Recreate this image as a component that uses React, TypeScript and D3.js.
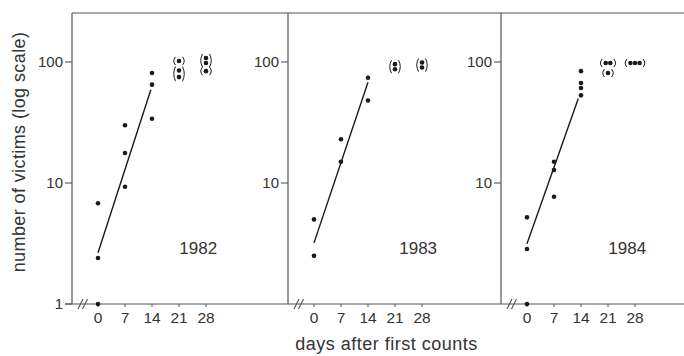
import * as d3 from 'd3';

// victims per count
const yearLabels = ['1982', '1983', '1984'];
const dayTicks = [0, 7, 14, 21, 28];
const yTicks = [1, 10, 100];

const days1982 = [0, 0, 0, 7, 7, 7, 14, 14, 14, 21, 21, 21, 28, 28, 28];
const victims1982 = [1, 2.4, 6.8, 9.3, 17.7, 30, 34, 65, 81, 75, 85, 102, 84, 98, 108];
const days1983 = [0, 0, 7, 7, 14, 14, 21, 21, 28, 28];
const victims1983 = [2.5, 5.0, 15, 23, 48, 74, 87, 96, 90, 99];
const days1984 = [0, 0, 0, 7, 7, 7, 14, 14, 14, 14, 21, 21, 21, 28, 28, 28];
const victims1984 = [1, 2.85, 5.2, 7.7, 12.8, 15, 53, 61, 67, 84, 81, 98, 98, 98, 98, 98];

// fitted exponential lines (value at day 0, value at end day)
const fitStart = [2.65, 3.2, 3.15];
const fitEnd = [59, 68, 50];
const fitEndDay = [13.7, 14, 13.3];

const bracketedFrom = 21; // counts after this are shown in brackets
const yearLabelDay = [26, 27, 26];
const yearLabelValue = 2.9;

const W = 684;
const H = 356;
const TOP = 13;
const BOTTOM = 304;
const panelLeft = [72, 288, 501];
const panelRight = [288, 501, 684];
const ZERO_OFFSET = 26;
const DAY_PX = 27 / 7;

const INK = '#1a1a1a';
const FRAME = '#555';
const TEXT = '#333';
const FONT = '"Liberation Sans", Arial, sans-serif';

const y = d3.scaleLog().domain([1, 100]).range([BOTTOM, 62]);

const series = [
  { days: days1982, victims: victims1982 },
  { days: days1983, victims: victims1983 },
  { days: days1984, victims: victims1984 },
];

type Pt = { cx: number; cy: number; day: number };

function layoutPoints(days: number[], victims: number[], x: d3.ScaleLinear<number, number>): Pt[] {
  const groups = d3.group(
    days.map((d, i) => ({ day: d, v: victims[i] })),
    (p) => `${p.day}|${p.v}`,
  );
  const out: Pt[] = [];
  groups.forEach((g) => {
    g.forEach((p, i) => {
      out.push({ cx: x(p.day) + (i - (g.length - 1) / 2) * 4.6, cy: y(p.v), day: p.day });
    });
  });
  return out;
}

function clusters(pts: Pt[]) {
  const res: { x0: number; x1: number; y0: number; y1: number }[] = [];
  const byDay = d3.group(pts.filter((p) => p.day >= bracketedFrom), (p) => p.day);
  byDay.forEach((g) => {
    const s = [...g].sort((a, b) => a.cy - b.cy);
    let cur: Pt[] = [];
    s.forEach((p) => {
      if (cur.length && p.cy - cur[cur.length - 1].cy > 7.5) {
        res.push(box(cur));
        cur = [];
      }
      cur.push(p);
    });
    if (cur.length) res.push(box(cur));
  });
  return res;
}

function box(ps: Pt[]) {
  return {
    x0: d3.min(ps, (p) => p.cx)!,
    x1: d3.max(ps, (p) => p.cx)!,
    y0: d3.min(ps, (p) => p.cy)!,
    y1: d3.max(ps, (p) => p.cy)!,
  };
}

function Panel({ idx }: { idx: number }) {
  const left = panelLeft[idx];
  const x = d3
    .scaleLinear()
    .domain([0, 28])
    .range([left + ZERO_OFFSET, left + ZERO_OFFSET + 28 * DAY_PX]);
  const { days, victims } = series[idx];
  const pts = layoutPoints(days, victims, x);
  const brs = clusters(pts);
  const ticks = idx === 0 ? yTicks : yTicks.filter((t) => t > 1);
  const fit = d3
    .line<[number, number]>()
    .x((d) => x(d[0]))
    .y((d) => y(d[1]));
  return (
    <g>
      <line x1={left} x2={left} y1={TOP} y2={BOTTOM} stroke={FRAME} strokeWidth={1.2} />
      {ticks.map((t) => (
        <g key={t}>
          <line x1={left - 7} x2={left} y1={y(t)} y2={y(t)} stroke={FRAME} strokeWidth={1.1} />
          <text
            x={left - 9}
            y={y(t)}
            dy="0.36em"
            textAnchor="end"
            fontSize={15}
            fill={TEXT}
            fontFamily={FONT}
          >
            {t}
          </text>
        </g>
      ))}
      {/* axis break */}
      {[6, 10.5].map((o) => (
        <line
          key={o}
          x1={left + o}
          y1={BOTTOM + 5}
          x2={left + o + 5}
          y2={BOTTOM - 5}
          stroke={FRAME}
          strokeWidth={1.1}
        />
      ))}
      {dayTicks.map((d) => (
        <g key={d}>
          <line x1={x(d)} x2={x(d)} y1={BOTTOM} y2={BOTTOM + 3} stroke={FRAME} strokeWidth={1} />
          <text x={x(d)} y={BOTTOM + 19} textAnchor="middle" fontSize={15.5} fill={TEXT} fontFamily={FONT}>
            {d}
          </text>
        </g>
      ))}
      <path
        d={fit([
          [0, fitStart[idx]],
          [fitEndDay[idx], fitEnd[idx]],
        ])!}
        stroke={INK}
        strokeWidth={1.4}
        fill="none"
      />
      {pts.map((p, i) => (
        <circle key={i} cx={p.cx} cy={p.cy} r={2.3} fill={INK} />
      ))}
      {brs.map((b, i) => (
        <g key={i} stroke={INK} strokeWidth={1} fill="none">
          <path
            d={`M${b.x0 - 3.5},${b.y0 - 4} Q${b.x0 - 7},${(b.y0 + b.y1) / 2} ${b.x0 - 3.5},${b.y1 + 4}`}
          />
          <path
            d={`M${b.x1 + 3.5},${b.y0 - 4} Q${b.x1 + 7},${(b.y0 + b.y1) / 2} ${b.x1 + 3.5},${b.y1 + 4}`}
          />
        </g>
      ))}
      <text
        x={x(yearLabelDay[idx])}
        y={y(yearLabelValue)}
        dy="0.36em"
        textAnchor="middle"
        fontSize={17}
        fill={TEXT}
        fontFamily={FONT}
      >
        {yearLabels[idx]}
      </text>
    </g>
  );
}

export default function App() {
  return (
    <svg
      width={W}
      height={H}
      viewBox={`0 0 ${W} ${H}`}
      style={{ position: 'absolute', left: 0, top: 0, background: '#fff' }}
    >
      <rect width={W} height={H} fill="#fff" />
      <line x1={panelLeft[0]} x2={W} y1={TOP} y2={TOP} stroke={FRAME} strokeWidth={1.2} />
      <line x1={panelLeft[0] - 7} x2={W} y1={BOTTOM} y2={BOTTOM} stroke={FRAME} strokeWidth={1.2} />
      {panelLeft.map((_, i) => (
        <Panel key={i} idx={i} />
      ))}
      <text
        transform={`translate(25, 152) rotate(-90)`}
        textAnchor="middle"
        fontSize={18}
        letterSpacing={0.4}
        fill={TEXT}
        fontFamily={FONT}
      >
        number of victims (log scale)
      </text>
      <text
        x={(panelLeft[1] + panelRight[1]) / 2 - 8}
        y={350}
        textAnchor="middle"
        fontSize={18}
        letterSpacing={0.5}
        fill={TEXT}
        fontFamily={FONT}
      >
        days after first counts
      </text>
    </svg>
  );
}
